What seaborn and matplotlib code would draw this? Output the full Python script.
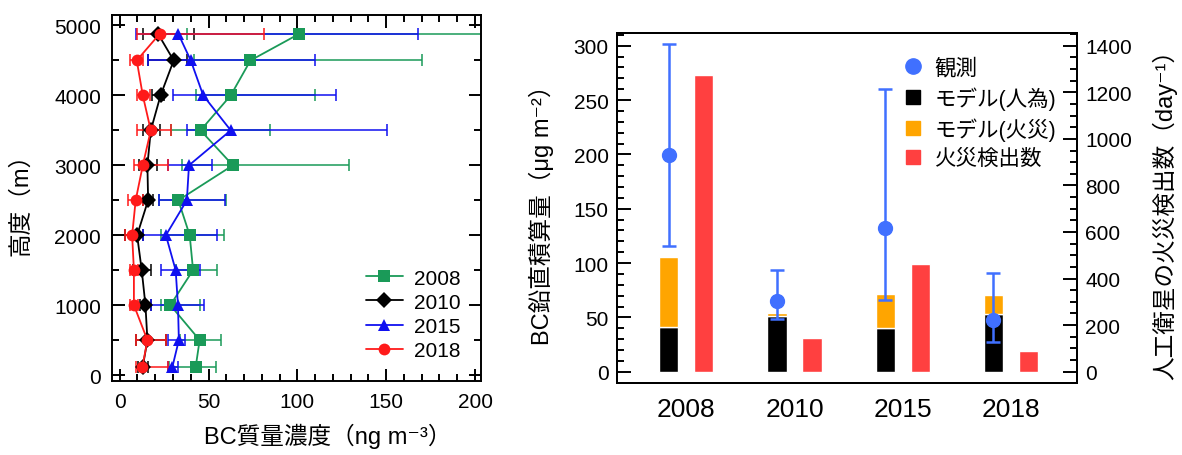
import matplotlib
matplotlib.use("Agg")
import numpy as np
import pandas as pd
import matplotlib.pyplot as plt
import seaborn as sns
from matplotlib.ticker import MultipleLocator
from matplotlib.lines import Line2D

sns.set_theme(style="ticks")
plt.rcParams['font.family'] = ['Liberation Sans', 'Noto Sans CJK JP', 'DejaVu Sans']
plt.rcParams['axes.unicode_minus'] = False
plt.rcParams.update({"axes.edgecolor": "black", "xtick.color": "black", "ytick.color": "black",
                     "text.color": "black", "axes.labelcolor": "black"})

# ---- left panel: vertical BC profiles (ng m-3) ----
altitude = [120, 500, 1000, 1500, 2000, 2500, 3000, 3500, 4000, 4500, 4880]
years = ["2008", "2010", "2015", "2018"]

bc_2008 = [42.8, 45.0, 28.5, 41.3, 39.4, 33.0, 63.7, 45.5, 62.5, 73.6, 101.0]
lo_2008 = [28.0, 33.8, 23.5, 31.5, 23.5, 22.0, 35.0, 29.0, 43.0, 42.0, 38.0]
hi_2008 = [54.0, 57.3, 45.0, 54.6, 58.6, 60.0, 129.0, 84.5, 110.0, 170.0, 205.0]

bc_2010 = [13.0, 15.6, 14.5, 12.4, 9.8, 16.0, 15.6, 17.5, 23.0, 30.4, 21.6]
lo_2010 = [10.3, 9.4, 11.3, 7.5, 2.8, 13.0, 11.0, 13.0, 18.0, 16.0, 13.0]
hi_2010 = [16.0, 26.0, 17.8, 17.8, 13.0, 19.0, 21.0, 22.5, 25.0, 38.0, 42.0]

bc_2015 = [29.7, 33.3, 32.8, 31.5, 26.0, 37.8, 39.0, 62.5, 47.0, 40.0, 33.0]
lo_2015 = [27.0, 27.0, 17.8, 23.5, 13.0, 22.0, 27.0, 38.0, 30.0, 16.0, 9.0]
hi_2015 = [32.8, 36.6, 47.5, 45.0, 54.5, 59.0, 52.0, 150.4, 121.5, 110.0, 168.0]

bc_2018 = [12.8, 15.6, 8.0, 8.0, 7.0, 9.0, 13.0, 17.5, 13.0, 9.6, 22.5]
lo_2018 = [9.4, 9.4, 5.6, 5.6, 2.8, 4.7, 8.0, 10.0, 9.6, 5.6, 10.0]
hi_2018 = [27.0, 26.0, 10.3, 10.3, 11.0, 13.0, 27.0, 28.7, 17.0, 13.0, 81.0]

# ---- right panel: column BC and fire counts ----
cats = ["2008", "2010", "2015", "2018"]
obs = [199, 65.3, 132, 47.6]
obs_lo = [116, 48.5, 66.3, 27.6]
obs_hi = [302, 93.8, 260, 90.8]
model_anthro = [41.4, 51.5, 40.2, 53.1]
model_fire = [63.8, 2.2, 31.3, 17.8]
fire_count = [1275, 146, 462, 90]

colors = {"2008": "#1a9a58", "2010": "#000000", "2015": "#1010f0", "2018": "#ff1a1a"}
markers = {"2008": "s", "2010": "D", "2015": "^", "2018": "o"}

prof = pd.DataFrame({
    "alt": altitude * 4,
    "bc": bc_2008 + bc_2010 + bc_2015 + bc_2018,
    "lo": lo_2008 + lo_2010 + lo_2015 + lo_2018,
    "hi": hi_2008 + hi_2010 + hi_2015 + hi_2018,
    "year": [y for y in years for _ in altitude],
})

fig = plt.figure(figsize=(11.82, 4.56), dpi=100)
ax1 = fig.add_axes([0.0948, 0.1623, 0.3122, 0.8026])
ax2 = fig.add_axes([0.522, 0.1579, 0.3892, 0.7675])

# error bars first, then lines with markers on top
for y in years:
    d = prof[prof["year"] == y]
    ax1.errorbar(d["bc"], d["alt"], xerr=[d["bc"] - d["lo"], d["hi"] - d["bc"]],
                 fmt="none", ecolor=colors[y], elinewidth=1.1, capsize=4, capthick=1.1,
                 zorder=2)

sns.lineplot(data=prof, x="bc", y="alt", hue="year", style="year", palette=colors,
             markers=markers, dashes=False, sort=False, orient="y", estimator=None,
             linewidth=1.3, markersize=8.5, markeredgewidth=0, ax=ax1, zorder=3)

ax1.set_xlim(-4.3, 203.4)
ax1.set_ylim(-85, 5150)
ax1.xaxis.set_major_locator(MultipleLocator(50))
ax1.xaxis.set_minor_locator(MultipleLocator(10))
ax1.yaxis.set_major_locator(MultipleLocator(1000))
ax1.yaxis.set_minor_locator(MultipleLocator(500))
ax1.tick_params(which="both", direction="in", top=True, right=True, width=1.4,
                labelsize=15, pad=8)
ax1.tick_params(which="major", length=9)
ax1.tick_params(which="minor", length=5)
for s in ax1.spines.values():
    s.set_linewidth(1.4)
ax1.set_xlabel("BC質量濃度（ng m⁻³）", fontsize=17)
ax1.xaxis.set_label_coords(0.585, -0.115)
ax1.set_ylabel("高度（m）", fontsize=17, labelpad=16)

h, l = ax1.get_legend_handles_labels()
ax1.legend(h, l, loc="lower right", bbox_to_anchor=(1.0, 0.0), frameon=False,
           fontsize=15, handlelength=1.8, labelspacing=0.25, handletextpad=0.5,
           borderaxespad=0.6)

# ---- right panel ----
x = np.arange(len(cats))
bw = 0.178
off = 0.162
ax2.bar(x - off, model_anthro, width=bw, color="black", zorder=2)
ax2.bar(x - off, model_fire, width=bw, bottom=model_anthro, color="#ffa500", zorder=2)
ax2.errorbar(x - off, obs, yerr=[np.array(obs) - np.array(obs_lo), np.array(obs_hi) - np.array(obs)],
             fmt="o", color="#4070ff", markersize=10, elinewidth=1.8, capsize=5,
             capthick=1.8, zorder=4)

ax3 = ax2.twinx()
ax3.bar(x + off, fire_count, width=bw, color="#ff4040", zorder=2)

ax2.set_xlim(-0.64, 3.61)
ax2.set_ylim(-10.4, 311.7)
ax3.set_ylim(-10.4 * 1400 / 300, 311.7 * 1400 / 300)
ax2.set_xticks(x)
ax2.set_xticklabels(cats)
ax2.tick_params(axis="x", length=0, labelsize=19, pad=10)
ax2.yaxis.set_major_locator(MultipleLocator(50))
ax2.yaxis.set_minor_locator(MultipleLocator(10))
ax2.tick_params(axis="y", which="both", direction="in", width=1.4, labelsize=15, pad=6)
ax2.tick_params(axis="y", which="major", length=10)
ax2.tick_params(axis="y", which="minor", length=5)
ax3.yaxis.set_major_locator(MultipleLocator(200))
ax3.yaxis.set_minor_locator(MultipleLocator(50))
ax3.tick_params(axis="y", which="both", direction="in", width=1.4, labelsize=15, pad=6)
ax3.tick_params(axis="y", which="major", length=10)
ax3.tick_params(axis="y", which="minor", length=5)
for a in (ax2, ax3):
    for s in a.spines.values():
        s.set_linewidth(1.4)
ax2.set_ylabel("BC鉛直積算量（μg m⁻²）", fontsize=17, labelpad=14)
ax3.set_ylabel("人工衛星の火災検出数（day⁻¹）", fontsize=17, labelpad=14)

handles = [
    Line2D([], [], marker="o", ls="none", color="#4070ff", markersize=11),
    Line2D([], [], marker="s", ls="none", color="black", markersize=10),
    Line2D([], [], marker="s", ls="none", color="#ffa500", markersize=10),
    Line2D([], [], marker="s", ls="none", color="#ff4040", markersize=10),
]
labels = ["観測", "モデル(人為)", "モデル(火災)", "火災検出数"]
ax3.legend(handles, labels, loc="upper left", bbox_to_anchor=(0.62, 0.93), frameon=False,
           fontsize=15.5, handlelength=1.0, handletextpad=0.5, labelspacing=0.35,
           borderaxespad=0, borderpad=0)

fig.savefig("out.png", dpi=100)
